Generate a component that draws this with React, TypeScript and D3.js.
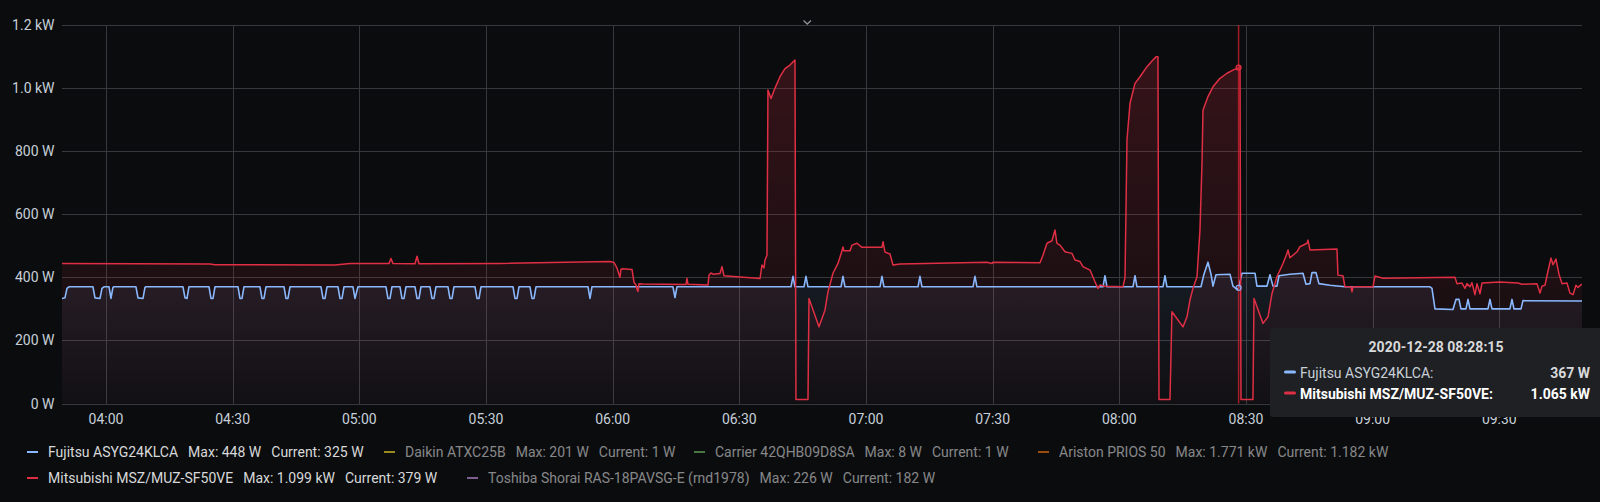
import React, { useEffect, useRef } from "react";
import * as d3 from "d3";

const DAY = "2020-12-28";
const timeRange: [string, string] = ["03:49:35", "09:49:35"];

const fujitsuSeries: [string, number][] = [
  ["03:49:35", 333], ["03:50:17", 335], ["03:50:46", 365], ["03:51:14", 370],
  ["03:56:55", 370], ["03:57:24", 335], ["03:58:35", 333], ["03:59:03", 365], ["03:59:32", 370],
  ["04:00:43", 370], ["04:01:11", 333], ["04:01:39", 368], ["04:01:54", 370],
  ["04:07:06", 370], ["04:07:35", 335], ["04:08:46", 333], ["04:09:14", 368], ["04:09:28", 370],
  ["04:18:14", 370], ["04:18:43", 335], ["04:19:11", 333], ["04:19:39", 370],
  ["04:24:24", 370], ["04:24:52", 333], ["04:25:21", 333], ["04:25:49", 370],
  ["04:31:16", 370], ["04:31:44", 333], ["04:32:13", 333], ["04:32:41", 370],
  ["04:36:28", 370], ["04:36:57", 333], ["04:37:25", 333], ["04:37:54", 370],
  ["04:42:10", 370], ["04:42:38", 333], ["04:43:06", 333], ["04:43:35", 370],
  ["04:50:55", 370], ["04:51:24", 333], ["04:51:52", 333], ["04:52:21", 370],
  ["04:54:57", 370], ["04:55:25", 333], ["04:55:54", 333], ["04:56:22", 370],
  ["04:58:30", 370], ["04:58:58", 333], ["04:59:41", 370],
  ["05:06:19", 370], ["05:06:47", 333], ["05:07:16", 333], ["05:07:44", 370],
  ["05:09:38", 370], ["05:10:06", 333], ["05:10:35", 333], ["05:11:03", 370],
  ["05:13:11", 370], ["05:13:40", 333], ["05:14:08", 333], ["05:14:36", 370],
  ["05:16:44", 370], ["05:17:13", 333], ["05:17:41", 333], ["05:18:09", 370],
  ["05:21:00", 370], ["05:21:28", 333], ["05:21:57", 333], ["05:22:25", 370],
  ["05:27:24", 370], ["05:27:52", 333], ["05:28:21", 333], ["05:28:49", 370],
  ["05:36:24", 370], ["05:36:52", 333], ["05:37:21", 333], ["05:37:49", 370],
  ["05:40:25", 370], ["05:40:54", 333], ["05:41:22", 333], ["05:41:51", 370],
  ["05:54:10", 370], ["05:54:38", 333], ["05:55:06", 370],
  ["06:14:17", 370], ["06:14:46", 336], ["06:15:14", 370],
  ["06:42:14", 370], ["06:42:43", 403], ["06:43:11", 370],
  ["06:45:19", 370], ["06:45:47", 403], ["06:46:16", 370],
  ["06:54:05", 370], ["06:54:33", 403], ["06:55:02", 370],
  ["07:03:19", 370], ["07:03:47", 403], ["07:04:16", 370],
  ["07:12:19", 370], ["07:12:47", 403], ["07:13:16", 370],
  ["07:25:20", 370], ["07:25:49", 403], ["07:26:17", 370],
  ["07:56:08", 370], ["07:56:36", 405], ["07:57:05", 370],
  ["08:03:14", 370], ["08:03:43", 405], ["08:04:11", 370],
  ["08:10:20", 370], ["08:10:49", 405], ["08:11:17", 370],
  ["08:19:20", 370], ["08:20:03", 410], ["08:21:00", 448], ["08:21:43", 410], ["08:22:11", 372], ["08:22:54", 408],
  ["08:26:13", 410], ["08:26:55", 372], ["08:27:52", 362], ["08:28:15", 367], ["08:29:03", 413],
  ["08:32:08", 413], ["08:32:36", 372], ["08:34:58", 372], ["08:35:41", 408], ["08:36:24", 372],
  ["08:37:20", 372], ["08:37:49", 405], ["08:40:25", 410], ["08:43:30", 413], ["08:44:13", 378],
  ["08:45:09", 380], ["08:45:38", 415], ["08:46:35", 415], ["08:47:17", 380], ["08:49:54", 375],
  ["08:53:27", 370], ["09:13:35", 370], ["09:14:03", 365], ["09:14:46", 300],
  ["09:19:01", 298], ["09:19:44", 330], ["09:20:27", 330], ["09:20:55", 300],
  ["09:22:06", 300], ["09:22:35", 330], ["09:23:03", 300],
  ["09:27:19", 300], ["09:27:47", 330], ["09:28:16", 300],
  ["09:32:31", 300], ["09:33:00", 330], ["09:33:28", 300],
  ["09:35:08", 300], ["09:35:36", 326], ["09:49:35", 325],
];

const mitsubishiSeries: [string, number][] = [
  ["03:49:35", 444], ["04:24:38", 442], ["04:25:49", 440], ["04:54:14", 439], ["04:57:47", 444],
  ["05:07:02", 444], ["05:07:30", 460], ["05:07:58", 444],
  ["05:13:11", 443], ["05:13:40", 467], ["05:14:08", 443],
  ["05:33:19", 444], ["05:59:22", 450], ["06:00:19", 447], ["06:01:02", 429], ["06:01:30", 410],
  ["06:01:44", 400], ["06:01:58", 425], ["06:02:13", 427],
  ["06:04:35", 425], ["06:05:03", 385], ["06:05:32", 375], ["06:05:46", 362], ["06:06:00", 355],
  ["06:06:14", 380], ["06:07:11", 379],
  ["06:17:22", 377], ["06:17:36", 397], ["06:17:51", 378],
  ["06:22:35", 376], ["06:22:49", 407], ["06:23:17", 414], ["06:23:46", 410], ["06:25:25", 412],
  ["06:25:54", 434], ["06:26:22", 405],
  ["06:34:54", 396], ["06:35:22", 439], ["06:35:51", 430], ["06:36:05", 455], ["06:36:33", 470],
  ["06:36:47", 994], ["06:37:30", 967], ["06:38:27", 1000], ["06:39:38", 1036], ["06:40:49", 1062],
  ["06:42:00", 1073], ["06:43:11", 1089],
  ["06:43:25", 13], ["06:46:16", 13], ["06:46:30", 333], ["06:48:52", 243], ["06:50:17", 296],
  ["06:51:00", 354], ["06:52:11", 413], ["06:53:22", 444],
  ["06:54:19", 484], ["06:54:33", 496], ["06:54:47", 484], ["06:56:13", 484], ["06:56:41", 502],
  ["06:57:52", 508], ["06:59:03", 495],
  ["07:03:47", 495], ["07:04:02", 513], ["07:04:30", 480], ["07:05:41", 474], ["07:06:24", 439],
  ["07:08:03", 442],
  ["07:28:40", 448], ["07:29:51", 444], ["07:30:05", 448], ["07:41:13", 446], ["07:41:55", 470],
  ["07:42:52", 508], ["07:44:03", 516], ["07:44:46", 550], ["07:45:14", 508], ["07:45:57", 502],
  ["07:47:08", 481], ["07:48:47", 476], ["07:49:30", 455], ["07:50:41", 450], ["07:51:24", 434],
  ["07:53:03", 423], ["07:54:14", 386], ["07:54:57", 365], ["07:55:25", 376], ["07:56:36", 372],
  ["08:00:52", 370], ["08:01:21", 400], ["08:01:49", 836], ["08:02:32", 952], ["08:03:43", 1015],
  ["08:04:54", 1036], ["08:06:33", 1068], ["08:07:58", 1089], ["08:08:41", 1099], ["08:09:09", 1099],
  ["08:09:24", 13], ["08:12:00", 13], ["08:12:28", 291], ["08:15:05", 243], ["08:16:02", 275],
  ["08:16:44", 328], ["08:17:27", 365], ["08:18:24", 402], ["08:19:06", 550], ["08:19:35", 762],
  ["08:19:49", 930], ["08:21:00", 973], ["08:22:11", 1004], ["08:23:51", 1031], ["08:25:30", 1047],
  ["08:26:55", 1057], ["08:28:15", 1065], ["08:28:35", 1068],
  ["08:28:49", 13], ["08:31:39", 13], ["08:31:54", 333], ["08:34:02", 254], ["08:35:13", 275],
  ["08:36:10", 349], ["08:37:20", 402], ["08:38:46", 444], ["08:39:43", 476], ["08:39:57", 487],
  ["08:40:25", 462], ["08:42:05", 481], ["08:42:47", 497], ["08:44:27", 508], ["08:44:41", 518],
  ["08:45:09", 487],
  ["08:51:33", 490], ["08:51:47", 407], ["08:52:58", 405], ["08:53:27", 370], ["08:54:52", 370],
  ["08:55:06", 354], ["08:55:21", 370], ["09:00:05", 370], ["09:00:33", 404], ["09:02:27", 397],
  ["09:19:30", 400], ["09:19:58", 380], ["09:21:09", 382], ["09:21:52", 365], ["09:22:20", 380],
  ["09:23:03", 370], ["09:23:31", 383], ["09:24:14", 345], ["09:24:43", 380], ["09:25:25", 348],
  ["09:25:54", 382],
  ["09:30:09", 385], ["09:34:25", 382], ["09:35:22", 378], ["09:38:55", 380], ["09:39:38", 350],
  ["09:40:06", 372], ["09:40:49", 375], ["09:41:32", 420], ["09:42:14", 461], ["09:42:43", 440],
  ["09:43:25", 458], ["09:44:08", 410], ["09:44:51", 380], ["09:46:02", 382], ["09:46:44", 350],
  ["09:47:27", 345], ["09:48:09", 375], ["09:48:38", 368], ["09:49:35", 379],
];

const yTickValues = [0, 200, 400, 600, 800, 1000, 1200];
const yTickLabels = ["0 W", "200 W", "400 W", "600 W", "800 W", "1.0 kW", "1.2 kW"];
const xTickLabels = ["04:00", "04:30", "05:00", "05:30", "06:00", "06:30", "07:00", "07:30", "08:00", "08:30", "09:00", "09:30"];

const legendNames = [
  "Fujitsu ASYG24KLCA",
  "Daikin ATXC25B",
  "Carrier 42QHB09D8SA",
  "Ariston PRIOS 50",
  "Mitsubishi MSZ/MUZ-SF50VE",
  "Toshiba Shorai RAS-18PAVSG-E (rnd1978)",
];
const legendMax = ["448 W", "201 W", "8 W", "1.771 kW", "1.099 kW", "226 W"];
const legendCurrent = ["325 W", "1 W", "1 W", "1.182 kW", "379 W", "182 W"];
const legendColors = ["#8AB8FF", "#FADE2A", "#73BF69", "#FF780A", "#E02F44", "#CA95E5"];
const legendVisible = [true, false, false, false, true, false];
const legendRow = [0, 0, 0, 0, 1, 1];

const tooltipTime = "08:28:15";
const tooltipNames = ["Fujitsu ASYG24KLCA:", "Mitsubishi MSZ/MUZ-SF50VE:"];
const tooltipValues = ["367 W", "1.065 kW"];
const tooltipColors = ["#8AB8FF", "#E02F44"];
const tooltipHoverValues = [367, 1065];

const BG = "#0b0c0e";
const FONT = "Roboto, 'Helvetica Neue', Arial, sans-serif";
// layout: legend item start x (per item) and row baselines
const LEGEND_ITEM_X = [27, 384, 694, 1038, 27, 467];
const LEGEND_ROW_Y = [457, 483];

export default function App() {
  const ref = useRef<SVGSVGElement>(null);

  useEffect(() => {
    document.body.style.margin = "0";
    document.body.style.background = BG;
    const svg = d3.select(ref.current!);
    svg.selectAll("*").remove();

    const W = 1600, H = 502;
    const left = 62, right = 1582, top = 25, bottom = 403.5;

    const parse = d3.timeParse("%Y-%m-%d %H:%M:%S");
    const toDate = (s: string) => parse(`${DAY} ${s}`) as Date;
    const x = d3.scaleTime().domain(timeRange.map(toDate)).range([left, right]);
    const y = d3.scaleLinear().domain([0, 1200]).range([bottom, top]);

    svg.append("rect").attr("width", W).attr("height", H).attr("fill", BG);

    const defs = svg.append("defs");
    defs.append("clipPath").attr("id", "plotclip")
      .append("rect").attr("x", left).attr("y", top - 2).attr("width", right - left).attr("height", bottom - top + 3);

    const mkGrad = (id: string, color: string) => {
      const g = defs.append("linearGradient").attr("id", id)
        .attr("gradientUnits", "userSpaceOnUse")
        .attr("x1", 0).attr("x2", 0).attr("y1", top).attr("y2", bottom);
      g.append("stop").attr("offset", "0").attr("stop-color", color).attr("stop-opacity", 0.22);
      g.append("stop").attr("offset", "1").attr("stop-color", color).attr("stop-opacity", 0.02);
    };
    mkGrad("gradBlue", "#8AB8FF");
    mkGrad("gradRed", "#E02F44");

    // grid
    const grid = svg.append("g");
    const gridColor = "#37383b";
    yTickValues.forEach((v) => {
      const yy = Math.round(y(v)) + 0.5;
      grid.append("line").attr("x1", left).attr("x2", right).attr("y1", yy).attr("y2", yy)
        .attr("stroke", gridColor).attr("stroke-width", 1);
    });
    xTickLabels.forEach((lab) => {
      const xx = Math.round(x(toDate(lab + ":00"))) + 0.5;
      grid.append("line").attr("x1", xx).attr("x2", xx).attr("y1", Math.round(y(1200)) + 0.5).attr("y2", Math.round(y(0)) + 0.5)
        .attr("stroke", gridColor).attr("stroke-width", 1);
    });

    // axes labels
    const axisColor = "#c7d0d9";
    yTickValues.forEach((v, i) => {
      svg.append("text").attr("x", 54.5).attr("y", y(v) + 5)
        .attr("text-anchor", "end").attr("fill", axisColor)
        .attr("font-family", FONT).attr("font-size", 14).text(yTickLabels[i]);
    });
    xTickLabels.forEach((lab) => {
      svg.append("text").attr("x", x(toDate(lab + ":00"))).attr("y", 424)
        .attr("text-anchor", "middle").attr("fill", axisColor)
        .attr("font-family", FONT).attr("font-size", 14).text(lab);
    });

    // series
    const plot = svg.append("g").attr("clip-path", "url(#plotclip)");
    const blue = fujitsuSeries.map(([t, v]) => ({ t: toDate(t), v }));
    const red = mitsubishiSeries.map(([t, v]) => ({ t: toDate(t), v }));
    const area = d3.area<{ t: Date; v: number }>().x((d) => x(d.t)).y0(y(0)).y1((d) => y(d.v));
    const line = d3.line<{ t: Date; v: number }>().x((d) => x(d.t)).y((d) => y(d.v));

    plot.append("path").attr("d", area(blue)!).attr("fill", "url(#gradBlue)");
    plot.append("path").attr("d", area(red)!).attr("fill", "url(#gradRed)");
    plot.append("path").attr("d", line(blue)!).attr("fill", "none")
      .attr("stroke", "#8AB8FF").attr("stroke-width", 1.6).attr("stroke-linejoin", "round");
    plot.append("path").attr("d", line(red)!).attr("fill", "none")
      .attr("stroke", "#E02F44").attr("stroke-width", 1.5).attr("stroke-linejoin", "round");

    // crosshair
    const cx = x(toDate(tooltipTime));
    svg.append("line").attr("x1", cx).attr("x2", cx).attr("y1", top).attr("y2", bottom)
      .attr("stroke", "#c8202c").attr("stroke-opacity", 0.8).attr("stroke-width", 1.5);
    tooltipHoverValues.forEach((v, i) => {
      svg.append("circle").attr("cx", cx).attr("cy", y(v)).attr("r", 2.5)
        .attr("fill", "none").attr("stroke", tooltipColors[i]).attr("stroke-width", 1.2);
    });

    // chevron
    svg.append("path").attr("d", "M803.5,20.5 L807.3,24 L811,20.5").attr("fill", "none")
      .attr("stroke", "#8e9096").attr("stroke-width", 1.3);

    // legend
    legendNames.forEach((name, i) => {
      const r = legendRow[i];
      const ry = LEGEND_ROW_Y[r];
      const g = svg.append("g").attr("opacity", legendVisible[i] ? 1 : 0.6);
      const x0 = LEGEND_ITEM_X[i];
      g.append("rect").attr("x", x0).attr("y", ry - 6).attr("width", 11).attr("height", 2)
        .attr("fill", legendColors[i]);
      let cur = x0 + 21;
      const segs = [name, `Max: ${legendMax[i]}`, `Current: ${legendCurrent[i]}`];
      segs.forEach((s) => {
        const t = g.append("text").attr("x", cur).attr("y", ry)
          .attr("fill", "#d8d9da").attr("font-family", FONT).attr("font-size", 14).text(s);
        const w = (t.node() as SVGTextElement).getComputedTextLength();
        cur += w + 10;
      });
    });

    // tooltip
    const tt = svg.append("g");
    tt.append("rect").attr("x", 1270).attr("y", 328).attr("width", 340).attr("height", 89)
      .attr("rx", 3).attr("fill", "#1f2023");
    tt.append("text").attr("x", 1436).attr("y", 352).attr("text-anchor", "middle")
      .attr("fill", "#d8d9da").attr("font-family", FONT).attr("font-size", 14).attr("font-weight", 700)
      .text(`${DAY} ${tooltipTime}`);
    const rowsY = [377.5, 398.5];
    tooltipNames.forEach((n, i) => {
      const emph = i === 1;
      tt.append("rect").attr("x", 1284).attr("y", rowsY[i] - 7).attr("width", 12).attr("height", 3)
        .attr("rx", 1.5).attr("fill", tooltipColors[i]);
      tt.append("text").attr("x", 1300).attr("y", rowsY[i])
        .attr("fill", emph ? "#ffffff" : "#c7d0d9").attr("font-family", FONT).attr("font-size", 14)
        .attr("font-weight", emph ? 700 : 400).text(n);
      tt.append("text").attr("x", 1590).attr("y", rowsY[i]).attr("text-anchor", "end")
        .attr("fill", emph ? "#ffffff" : "#d8d9da").attr("font-family", FONT).attr("font-size", 14)
        .attr("font-weight", 700).text(tooltipValues[i]);
    });
  }, []);

  return (
    <svg
      ref={ref}
      width={1600}
      height={502}
      style={{ position: "absolute", left: 0, top: 0, display: "block", background: BG }}
    />
  );
}
